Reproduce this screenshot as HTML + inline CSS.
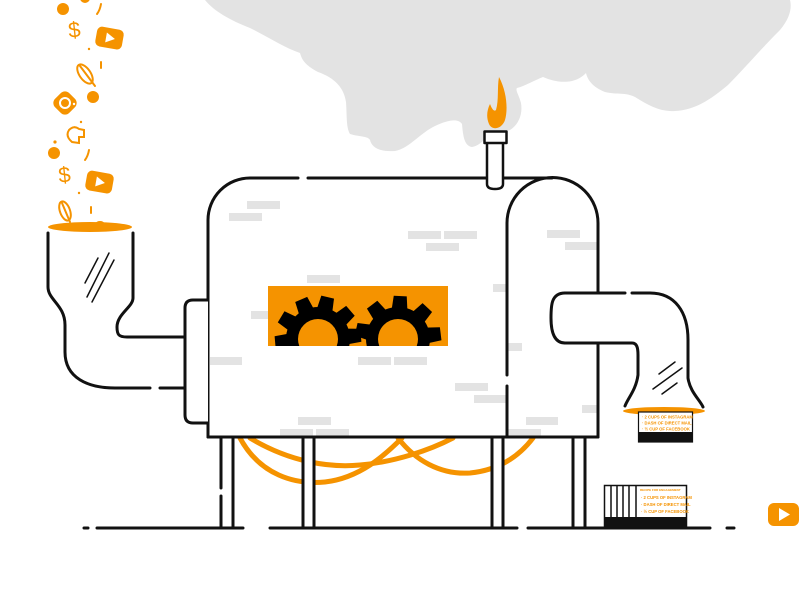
<!DOCTYPE html>
<html><head><meta charset="utf-8"><style>
html,body{margin:0;padding:0;background:#fff;}
svg{display:block;}
text{font-family:"Liberation Sans",sans-serif;}
</style></head><body>
<svg width="800" height="600" viewBox="0 0 800 600" xmlns="http://www.w3.org/2000/svg">
<defs>
<clipPath id="pc"><rect x="268" y="286" width="180" height="60"/></clipPath>
</defs>
<rect width="800" height="600" fill="#fff"/>
<!-- smoke -->
<path fill="#e3e3e3" d="M205,0 C215,12 230,20 250,28 C270,38 285,48 300,53 C302,60 305,65 318,72 C335,78 344,88 346,102 C347,115 346,128 350,134 C360,137 368,136 370,140 C372,148 380,152 395,151 C410,148 420,133 435,126 C448,120 458,118 462,124 C463,135 464,146 472,147 C478,146 482,142 486,138 L510,130 C518,125 523,115 521,103 C519,95 515,90 517,88 C525,86 535,80 543,77 C552,81 562,83 572,81 C580,79 584,75 586,73 C588,82 595,88 605,92 C618,95 625,92 635,97 C648,105 660,112 675,111 C695,110 710,100 728,85 C745,68 760,50 780,30 C790,18 792,8 790,0 Z"/>
<!-- flame -->
<path fill="#f59300" d="M499,77 C507,92 508,110 505,120 C502,129 492,131 489,124 C486,117 487,110 490,104 C492,109 494,112 496,110 C499,100 497,88 499,77 Z"/>
<!-- bricks -->
<g fill="#e3e3e3">
<rect x="247" y="201" width="33" height="8"/><rect x="229" y="213" width="33" height="8"/>
<rect x="408" y="231" width="33" height="8"/><rect x="444" y="231" width="33" height="8"/>
<rect x="426" y="243" width="33" height="8"/><rect x="547" y="230" width="33" height="8"/>
<rect x="565" y="242" width="33" height="8"/><rect x="307" y="275" width="33" height="8"/>
<rect x="493" y="284" width="14" height="8"/><rect x="251" y="311" width="17" height="8"/>
<rect x="210" y="357" width="32" height="8"/><rect x="358" y="357" width="33" height="8"/>
<rect x="394" y="357" width="33" height="8"/><rect x="507" y="343" width="15" height="8"/>
<rect x="455" y="383" width="33" height="8"/><rect x="474" y="395" width="32" height="8"/>
<rect x="582" y="405" width="16" height="8"/><rect x="526" y="417" width="32" height="8"/>
<rect x="298" y="417" width="33" height="8"/><rect x="280" y="429" width="33" height="8"/>
<rect x="316" y="429" width="33" height="8"/><rect x="508" y="429" width="33" height="8"/>
</g>
<!-- gear panel -->
<rect x="268" y="286" width="180" height="60" fill="#f59300"/>
<g clip-path="url(#pc)" fill="#000">
 <circle cx="318" cy="339" r="32"/>
 <g>
  <polygon points="310,311 311.5,296 324.5,296 326,311" transform="rotate(13 318 339)"/>
  <polygon points="310,311 311.5,296 324.5,296 326,311" transform="rotate(49 318 339)"/>
  <polygon points="310,311 311.5,296 324.5,296 326,311" transform="rotate(85 318 339)"/>
  <polygon points="310,311 311.5,296 324.5,296 326,311" transform="rotate(121 318 339)"/>
  <polygon points="310,311 311.5,296 324.5,296 326,311" transform="rotate(-23 318 339)"/>
  <polygon points="310,311 311.5,296 324.5,296 326,311" transform="rotate(-59 318 339)"/>
  <polygon points="310,311 311.5,296 324.5,296 326,311" transform="rotate(-95 318 339)"/>
 </g>
 <circle cx="318" cy="339" r="20" fill="#f59300"/>
 <circle cx="398" cy="339" r="32"/>
 <g>
  <polygon points="390,311 391.5,296 404.5,296 406,311" transform="rotate(3 398 339)"/>
  <polygon points="390,311 391.5,296 404.5,296 406,311" transform="rotate(43 398 339)"/>
  <polygon points="390,311 391.5,296 404.5,296 406,311" transform="rotate(83 398 339)"/>
  <polygon points="390,311 391.5,296 404.5,296 406,311" transform="rotate(123 398 339)"/>
  <polygon points="390,311 391.5,296 404.5,296 406,311" transform="rotate(-37 398 339)"/>
  <polygon points="390,311 391.5,296 404.5,296 406,311" transform="rotate(-77 398 339)"/>
  <polygon points="390,311 391.5,296 404.5,296 406,311" transform="rotate(-117 398 339)"/>
 </g>
 <circle cx="398" cy="339" r="20" fill="#f59300"/>
</g>
<!-- wires -->
<g fill="none" stroke="#f59300" stroke-width="5" stroke-linecap="round">
<path d="M240,438 C260,475 295,485 325,482 C360,478 385,455 402,438"/>
<path d="M398,438 C415,460 440,475 470,473 C500,470 520,455 533,438"/>
<path d="M250,438 C290,462 330,468 360,465 C395,462 430,450 453,438"/>
</g>
<!-- legs -->
<g fill="#fff"><rect x="221" y="438" width="12" height="90"/><rect x="303" y="438" width="11" height="90"/><rect x="492" y="438" width="11" height="90"/><rect x="573" y="438" width="12" height="90"/></g>
<g fill="none" stroke="#111" stroke-width="3" stroke-linecap="round" stroke-linejoin="round">
<path d="M221,438 L221,488 M221,496 L221,527 M233,438 L233,527 M303,438 L303,527 M314,438 L314,527 M492,438 L492,527 M503,438 L503,527 M573,438 L573,527 M585,438 L585,527"/>
<!-- ground -->
<path d="M84,528 L88,528 M97,528 L243,528 M270,528 L517,528 M528,528 L710,528 M727,528 L734,528"/>
<!-- body -->
<path d="M208,437 L208,220 A42,42 0 0 1 250,178 L298,178 M308,178 L487,178 M503,178 L552,178"/>
<path d="M507,437 L507,386 M507,375 L507,223 A45.5,45.5 0 0 1 598,223 L598,293 M598,343 L598,437"/>
<path d="M208,437 L598,437"/>
<!-- flange -->
<path d="M208,300 L193,300 Q185,300 185,308 L185,415 Q185,423 193,423 L208,423" fill="#fff"/>
<!-- left pipe -->
<path d="M48,233 L48,287 C48,300 65,305 65,325 L65,352 C65,378 88,388 115,388 L150,388 M160,388 L185,388"/>
<path d="M133,233 L133,298 C133,307 117,314 117,327 C117,335 119,337 127,337 L185,337"/>
<!-- right pipe -->
<path d="M565,293 L625,293 M632,293 L650,293 C675,293 688,312 688,340 L688,378 C690,392 700,400 703,407"/>
<path d="M565,343 L632,343 C637,343 638,348 638,355 L638,375 C636,390 628,398 625,406"/>
<path d="M565,293 C551,293 551,306 551,318 C551,333 555,343 565,343"/>
<!-- chimney -->
<path d="M487,143 L487,184 Q487,189 495,189 Q503,189 503,184 L503,143" fill="#fff" stroke-width="2.5"/>
<rect x="484.5" y="131.5" width="22" height="11.5" fill="#fff" stroke-width="2.5"/>
</g>
<!-- glass streaks -->
<g stroke="#111" stroke-width="1.5" stroke-linecap="round">
<line x1="98" y1="258" x2="85" y2="283"/><line x1="109" y1="253" x2="87" y2="297"/><line x1="114" y1="260" x2="92" y2="302"/>
<line x1="675" y1="362" x2="659" y2="374"/><line x1="682" y1="368" x2="653" y2="389"/><line x1="677" y1="383" x2="662" y2="394"/>
</g>
<!-- right output -->
<ellipse cx="664" cy="411" rx="41" ry="4" fill="#f59300"/>
<rect x="638.5" y="412" width="54" height="30" fill="#fff" stroke="#111" stroke-width="1.2"/>
<rect x="638.5" y="432" width="54" height="10" fill="#111"/>
<g fill="#f59300" font-size="4.2" font-weight="bold">
<text x="642" y="418.5">· 2 CUPS OF INSTAGRAM</text>
<text x="642" y="424.5">· DASH OF DIRECT MAIL</text>
<text x="642" y="430.5">· ½ CUP OF FACEBOOK</text>
</g>
<!-- stack bottom right -->
<rect x="604.5" y="485.5" width="82" height="41" fill="#fff" stroke="#111" stroke-width="1.5"/>
<rect x="604.5" y="517" width="82" height="10" fill="#111"/>
<g stroke="#111" stroke-width="1.5">
<line x1="611" y1="486" x2="611" y2="517"/><line x1="617" y1="486" x2="617" y2="517"/><line x1="623" y1="486" x2="623" y2="517"/><line x1="629" y1="486" x2="629" y2="517"/><line x1="636" y1="486" x2="636" y2="517"/>
</g>
<g fill="#f59300" font-size="4.2" font-weight="bold">
<text x="640" y="491" font-size="3">RECIPE FOR ENGAGEMENT</text>
<text x="641" y="499">· 2 CUPS OF INSTAGRAM</text>
<text x="641" y="506">· DASH OF DIRECT MAIL</text>
<text x="641" y="513">· ½ CUP OF FACEBOOK</text>
</g>
<!-- bottom right youtube -->
<rect x="768" y="503" width="31" height="23" rx="6" fill="#f59300"/>
<polygon points="779,508 779,521 790,514.5" fill="#fff"/>
<!-- falling icons -->
<g fill="#f59300">
<circle cx="63" cy="9" r="6"/>
<circle cx="85" cy="-2" r="5"/>
<circle cx="93" cy="97" r="6"/>
<circle cx="54" cy="153" r="6"/>
<circle cx="89" cy="49" r="1.2"/><circle cx="81" cy="122" r="1.2"/><circle cx="55" cy="142" r="1.6"/><circle cx="79" cy="193" r="1.2"/>
<text x="68" y="37" font-size="22" transform="rotate(-6 77 28)">$</text>
<text x="58" y="182" font-size="22" transform="rotate(-6 67 172)">$</text>
<g transform="rotate(10 109 38)"><rect x="96" y="28" width="27" height="20" rx="5"/><polygon points="106,33 106,43 115,38" fill="#fff"/></g>
<g transform="rotate(10 99 182)"><rect x="86" y="172" width="27" height="20" rx="5"/><polygon points="96,177 96,187 105,182" fill="#fff"/></g>
<g transform="rotate(45 65 103)"><rect x="55" y="93" width="20" height="20" rx="6"/></g>
<ellipse cx="90" cy="227" rx="42" ry="5"/>
<ellipse cx="100" cy="223" rx="4" ry="2"/>
</g>
<circle cx="65" cy="103" r="5" fill="none" stroke="#fff" stroke-width="2"/>
<circle cx="74" cy="104" r="1.2" fill="#fff"/>
<g fill="none" stroke="#f59300" stroke-width="2" stroke-linecap="round">
<path d="M101,4 Q100,10 97,14"/>
<path d="M101,62 L101,68"/>
<path d="M89,150 Q88,156 85,160"/>
<path d="M91,207 L91,213"/>
<ellipse cx="85" cy="74" rx="11" ry="5.5" transform="rotate(55 85 74)"/>
<path d="M80,66 L95,86"/>
<ellipse cx="65" cy="211" rx="10" ry="5" transform="rotate(70 65 211)"/>
<path d="M62,203 L70,222"/>
<path d="M72,142 Q65,136 69,130 Q74,125 79,129 L84,130 L84,137 L79,137 L79,143 Z"/>
</g>
</svg>
</body></html>
